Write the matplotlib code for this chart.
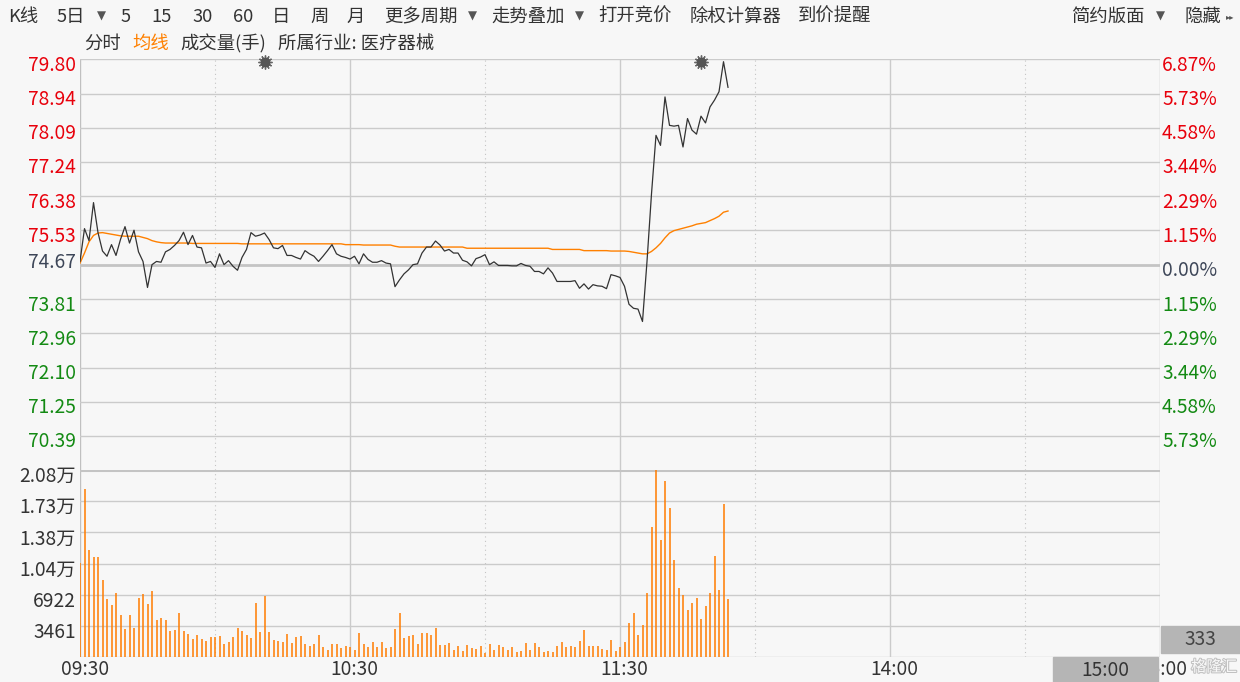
import matplotlib
matplotlib.use('Agg')
import matplotlib.pyplot as plt
import matplotlib.transforms as mtransforms
import matplotlib.patheffects as pe
from matplotlib.patches import Rectangle

plt.rcParams['font.family'] = ['Noto Sans CJK SC', 'DejaVu Sans']

# ---- data (one point per minute from 09:30) ----
pre_close = 74.67
price = [74.75, 75.57, 75.27, 76.22, 75.47, 75.01, 74.88, 75.17, 74.90, 75.30,
         75.62, 75.21, 75.53, 74.99, 74.75, 74.10, 74.67, 74.75, 74.73, 74.99,
         75.05, 75.15, 75.27, 75.48, 75.17, 75.40, 75.11, 75.09, 74.71, 74.75,
         74.60, 74.94, 74.67, 74.77, 74.63, 74.53, 74.85, 75.05, 75.47, 75.38,
         75.41, 75.46, 75.30, 75.09, 75.07, 75.15, 74.90, 74.90, 74.85, 74.81,
         75.02, 74.94, 74.88, 74.75, 74.88, 75.02, 75.17, 74.94, 74.88, 74.85,
         74.81, 74.88, 74.69, 74.94, 74.80, 74.73, 74.73, 74.77, 74.71, 74.69,
         74.12, 74.29, 74.44, 74.54, 74.67, 74.69, 74.96, 75.11, 75.11, 75.26,
         75.16, 75.01, 75.05, 74.96, 74.96, 74.78, 74.74, 74.64, 74.82, 74.86,
         74.92, 74.67, 74.74, 74.65, 74.65, 74.65, 74.64, 74.64, 74.70, 74.65,
         74.63, 74.50, 74.50, 74.44, 74.59, 74.46, 74.25, 74.25, 74.25, 74.25,
         74.27, 74.08, 74.19, 74.06, 74.17, 74.14, 74.13, 74.07, 74.42, 74.39,
         74.35, 74.13, 73.68, 73.58, 73.56, 73.25, 74.75, 76.44, 77.90, 77.65,
         78.86, 78.15, 78.13, 78.15, 77.61, 78.32, 78.03, 77.93, 78.38, 78.21,
         78.61, 78.78, 78.99, 79.74, 79.10]
avg_price = [74.71, 74.96, 75.24, 75.40, 75.46, 75.47, 75.45, 75.43, 75.41, 75.39,
             75.38, 75.38, 75.38, 75.38, 75.35, 75.32, 75.27, 75.24, 75.22, 75.21,
             75.21, 75.21, 75.21, 75.21, 75.21, 75.20, 75.20, 75.20, 75.20, 75.20,
             75.20, 75.20, 75.20, 75.20, 75.20, 75.20, 75.19, 75.19, 75.19, 75.19,
             75.19, 75.19, 75.19, 75.19, 75.19, 75.19, 75.19, 75.19, 75.19, 75.19,
             75.19, 75.19, 75.19, 75.19, 75.19, 75.19, 75.19, 75.19, 75.19, 75.17,
             75.17, 75.17, 75.17, 75.16, 75.16, 75.16, 75.16, 75.16, 75.16, 75.16,
             75.13, 75.11, 75.11, 75.11, 75.11, 75.11, 75.11, 75.11, 75.11, 75.11,
             75.11, 75.11, 75.11, 75.11, 75.11, 75.11, 75.08, 75.08, 75.08, 75.08,
             75.08, 75.08, 75.08, 75.08, 75.08, 75.08, 75.08, 75.08, 75.08, 75.08,
             75.08, 75.08, 75.08, 75.08, 75.08, 75.05, 75.05, 75.05, 75.05, 75.05,
             75.05, 75.05, 75.02, 75.02, 75.02, 75.02, 75.02, 75.02, 75.01, 75.01,
             75.01, 75.01, 75.00, 74.98, 74.96, 74.94, 74.94, 75.00, 75.09, 75.20,
             75.34, 75.46, 75.52, 75.55, 75.58, 75.61, 75.64, 75.68, 75.70, 75.72,
             75.77, 75.82, 75.88, 75.98, 76.01]
volume = [10423, 18665, 11900, 11125, 11125, 8575, 6468, 5766, 7096, 4694,
          3105, 4694, 3252, 6579, 7022, 5914, 7355, 4140, 4361, 4140,
          2920, 3031, 4916, 2920, 2587, 2033, 2476, 2033, 1811, 2255,
          2255, 2365, 1478, 1700, 2255, 3252, 2920, 2476, 2144, 6024,
          2809, 6801, 2809, 1922, 1811, 1700, 2587, 1589, 2255, 2365,
          1478, 1257, 1478, 2476, 1146, 813, 1478, 1478, 1035, 1257,
          1146, 813, 2698, 1478, 1146, 1700, 1146, 1700, 1035, 1146,
          3142, 4916, 2144, 2365, 2476, 1478, 2698, 2698, 2476, 3252,
          1368, 1368, 1589, 813, 1257, 702, 1368, 1035, 924, 1257,
          480, 1478, 813, 1368, 1146, 813, 1146, 591, 702, 1589,
          813, 1589, 1146, 591, 702, 591, 1257, 1700, 1146, 1257,
          1146, 1811, 3031, 1257, 1257, 1257, 924, 813, 1922, 702,
          1146, 1700, 3807, 4916, 2476, 3585, 7133, 14451, 20735, 13010,
          19552, 16558, 10792, 7688, 6912, 5248, 6024, 6579, 4250, 5692,
          7133, 11236, 7466, 17002, 6468]
minutes = list(range(len(price)))
event_minutes = [41, 138]

price_ticks = [79.80, 78.94, 78.09, 77.24, 76.38, 75.53, 74.67,
               73.81, 72.96, 72.10, 71.25, 70.39]
price_labels = ['79.80', '78.94', '78.09', '77.24', '76.38', '75.53', '74.67',
                '73.81', '72.96', '72.10', '71.25', '70.39']
pct_labels = ['6.87%', '5.73%', '4.58%', '3.44%', '2.29%', '1.15%', '0.00%',
              '1.15%', '2.29%', '3.44%', '4.58%', '5.73%']
vol_ticks = [20766, 17305, 13844, 10383, 6922, 3461]
vol_labels = ['2.08万', '1.73万', '1.38万', '1.04万', '6922', '3461']
time_ticks = [0, 60, 120, 180]
time_labels = ['09:30', '10:30', '11:30', '14:00']
last_vol = '333'

# ---- figure ----
W, H = 1240, 682
BG = '#f7f7f7'
GRID = '#cbcbcb'
RED = '#e8000b'
GREEN = '#138a13'
TXT = '#333333'
FS = 13.2     # header text
FSN = 13.8    # axis numbers

fig = plt.figure(figsize=(W / 100, H / 100), dpi=100, facecolor=BG)
L, R, TOP, MID, BOT = 80, 1160, 59.3, 470, 657.3
ax = fig.add_axes([L / W, 1 - MID / H, (R - L) / W, (MID - TOP) / H])
axv = fig.add_axes([L / W, 1 - BOT / H, (R - L) / W, (BOT - MID) / H])

span = price_ticks[0] - pre_close
for a in (ax, axv):
    a.set_facecolor(BG)
    a.set_xlim(0, 240)
    a.set_xticks([])
    a.set_yticks([])
    for s in a.spines.values():
        s.set_visible(False)
    for m in (60, 120, 180):
        a.axvline(m, color=GRID, lw=1.0, zorder=1)
    for m in (30, 90, 150, 210):
        a.axvline(m, color='#c4c4c4', lw=0.8, ls=(0, (1, 3)), zorder=1)
    a.axvline(0, color='#c0c0c0', lw=1.0, zorder=1)
    a.axvline(240, color='#c0c0c0', lw=1.0, zorder=1)
ax.set_ylim(pre_close - span, pre_close + span)
axv.set_ylim(0, vol_ticks[0])


def shifted(tr, dx, dy):
    return tr + mtransforms.ScaledTranslation(dx / 100, -dy / 100, fig.dpi_scale_trans)


# price grid + labels
for v, lab, pl in zip(price_ticks, price_labels, pct_labels):
    if lab == '74.67':
        ax.axhline(v, color='#c4c4c4', lw=2.0, zorder=1)
        col, dy = '#3d4658', -2
    else:
        ax.axhline(v, color=GRID, lw=1.0, zorder=1)
        col, dy = (RED if v > pre_close else GREEN), 6
    ax.text(0, v, lab, transform=shifted(ax.get_yaxis_transform(), -4, dy),
            ha='right', va='center', fontsize=FSN, color=col)
    pcol = '#3d4658' if lab == '74.67' else col
    ax.text(1, v, pl, transform=shifted(ax.get_yaxis_transform(), 2, 6),
            ha='left', va='center', fontsize=FSN, color=pcol)

ax.plot(minutes, avg_price, color='#ff8000', lw=1.0, zorder=3)
ax.plot(minutes, price, color='#333333', lw=0.9, zorder=4)

# event markers on the top edge
for m in event_minutes:
    ax.plot([m], [price_ticks[0]], marker=(12, 2, 0), ms=10, color='#666666',
            mew=1.0, clip_on=False, zorder=5,
            transform=shifted(ax.transData, 0, 2.5))
    ax.plot([m], [price_ticks[0]], marker='o', ms=6, color='#555555',
            clip_on=False, zorder=6, transform=shifted(ax.transData, 0, 2.5))

# volume grid + labels
for v, lab in zip(vol_ticks, vol_labels):
    if v == vol_ticks[0]:
        axv.axhline(v, color='#c4c4c4', lw=2.2, zorder=1)
    else:
        axv.axhline(v, color=GRID, lw=1.0, zorder=1)
    axv.text(0, v, lab, transform=shifted(axv.get_yaxis_transform(), -4, 6.5),
             ha='right', va='center', fontsize=FSN, color=TXT)
axv.axhline(0, color=GRID, lw=1.0, zorder=1)
axv.vlines(minutes, 0, volume, color='#ff7c00', lw=1.1, zorder=3)

# time labels
for t, lab in zip(time_ticks, time_labels):
    axv.text(t, 0, lab, transform=shifted(axv.get_xaxis_transform(), 5 if t == 0 else 4, 12),
             ha='center', va='center', fontsize=FSN, color=TXT)
axv.text(240, 0, '15:00', transform=shifted(axv.get_xaxis_transform(), 3, 12),
         ha='center', va='center', fontsize=FSN, color=TXT, zorder=2)

# gray boxes on the right / bottom
fig.patches.append(Rectangle((1160.5 / W, 1 - 653 / H), 79.5 / W, 27 / H,
                             transform=fig.transFigure, color='#b5b5b5', zorder=5))
fig.text(1200 / W, 1 - 639.5 / H, last_vol, ha='center', va='center',
         fontsize=FSN, color='#444444', zorder=6)
fig.patches.append(Rectangle((1053 / W, 0), 105 / W, 25 / H,
                             transform=fig.transFigure, color='#b5b5b5', zorder=5))
fig.text(1105.5 / W, 1 - 670 / H, '15:00', ha='center', va='center',
         fontsize=FSN, color='#333333', zorder=6)
fig.text(1214 / W, 1 - 667 / H, '格隆汇', ha='center', va='center', fontsize=11,
         color='white', alpha=0.9, zorder=7,
         path_effects=[pe.withStroke(linewidth=1.5, foreground='#bbbbbb')])

# header
row1 = [('K线', 8), ('5日', 57), ('5', 121), ('15', 151), ('30', 192), ('60', 233),
        ('日', 272), ('周', 310), ('月', 347), ('更多周期', 384), ('走势叠加', 491),
        ('打开竞价', 598), ('除权计算器', 690), ('到价提醒', 798), ('简约版面', 1071),
        ('隐藏', 1185)]
for s, x in row1:
    fig.text(x / W, 1 - 17 / H, s, ha='left', va='center', fontsize=FS, color=TXT)
for x in (97, 468, 575, 1156):
    fig.text(x / W, 1 - 16 / H, '▼', ha='left', va='center', fontsize=8.5,
             color='#555555', family='DejaVu Sans')
fig.text(1226 / W, 1 - 17 / H, '▸▸', ha='left', va='center', fontsize=6,
         color='#555555', family='DejaVu Sans')
row2 = [('分时', 84, TXT), ('均线', 132, '#ff8000'), ('成交量(手)', 180, TXT),
        ('所属行业: 医疗器械', 278, TXT)]
for s, x, c in row2:
    fig.text(x / W, 1 - 44 / H, s, ha='left', va='center', fontsize=FS, color=c)

fig.savefig('out.png', dpi=100, facecolor=BG)
